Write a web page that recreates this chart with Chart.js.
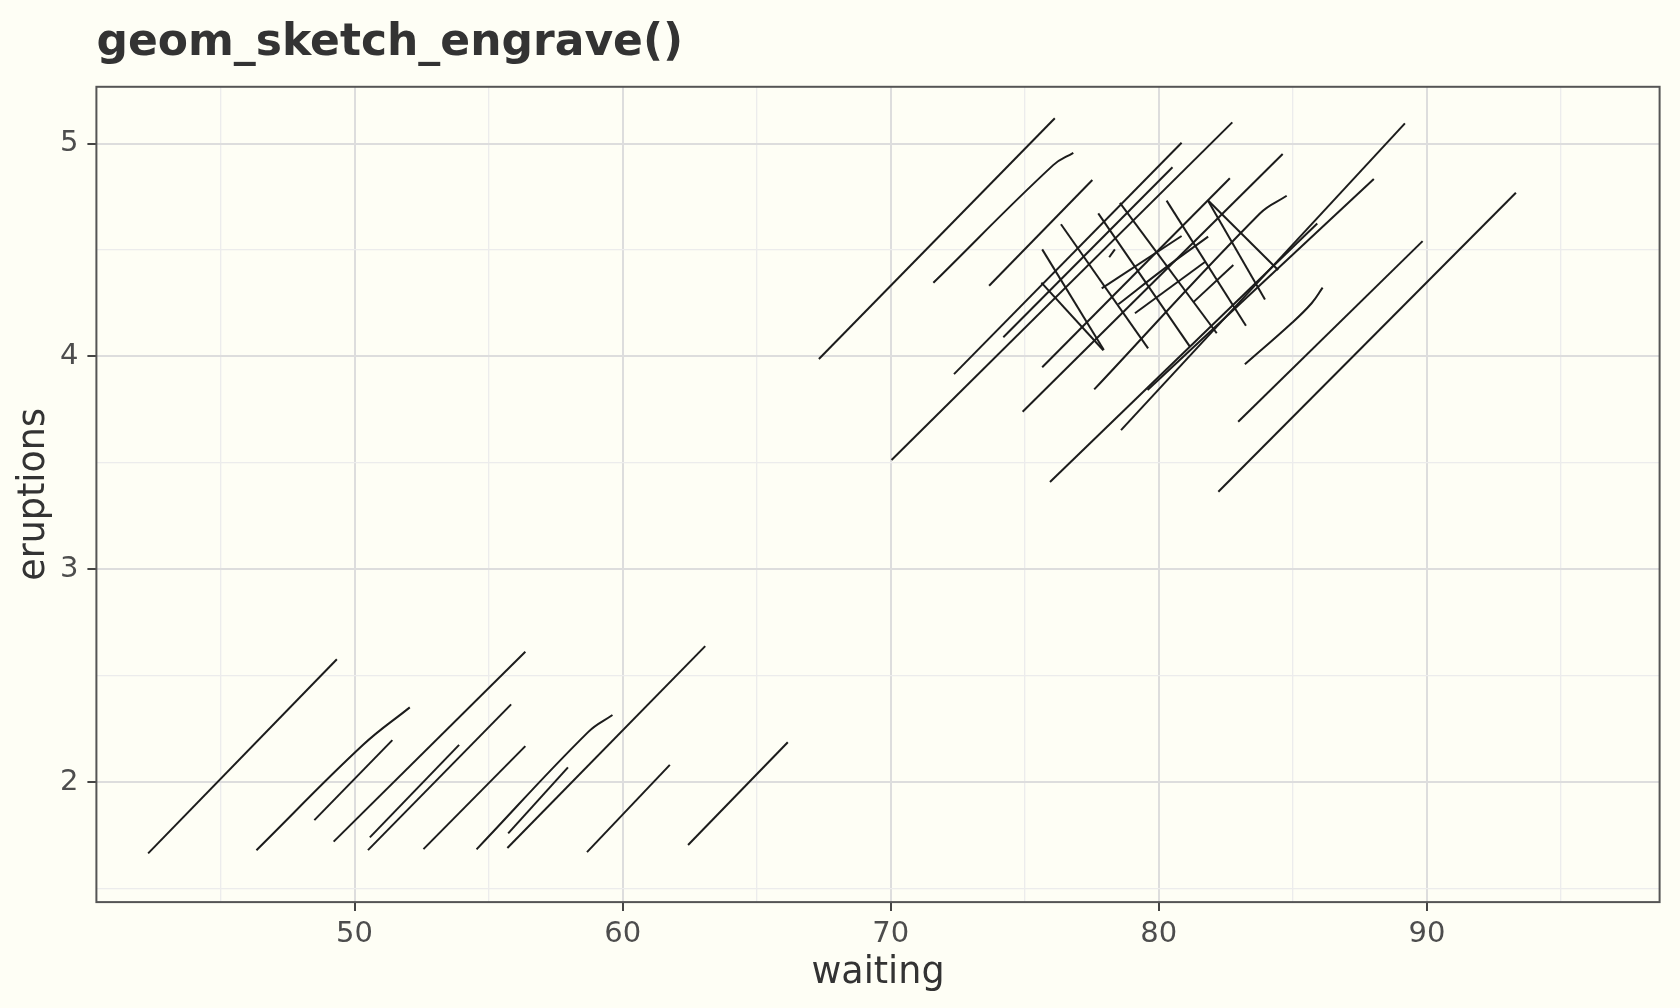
<!DOCTYPE html>
<html lang="en">
<head>
    <meta charset="UTF-8">
    <title>geom_sketch_engrave()</title>
    <script src="https://cdn.jsdelivr.net/npm/chart.js"></script>
    <style>
        body {
            margin: 0;
            background-color: #fefef5;
            overflow: hidden;
        }
        canvas {
            display: block;
        }
    </style>
</head>
<body>
    <canvas id="engraveChart" width="1680" height="1008"></canvas>

    <script>
        // axis ranges and ticks
        const xLimits = [40.37, 98.68];
        const yLimits = [1.436, 5.267];
        const xMajor = [50, 60, 70, 80, 90];
        const xMinor = [45, 55, 65, 75, 85, 95];
        const yMajor = [2, 3, 4, 5];
        const yMinor = [1.5, 2.5, 3.5, 4.5];

        // engraved strokes: waiting values along each stroke
        const strokeWaiting = [
            // short eruptions
            [42.30, 49.34],
            [46.34, 50.31, 52.06],
            [48.50, 51.41],
            [49.22, 56.37],
            [50.57, 53.90],
            [50.50, 55.84],
            [52.57, 56.37],
            [54.55, 58.72, 59.62],
            [55.73, 57.96],
            [55.70, 63.08],
            [58.67, 61.76],
            [62.44, 66.16],
            // long eruptions, rising strokes
            [67.32, 76.12],
            [71.59, 76.06, 76.81],
            [73.67, 77.52],
            [70.03, 82.74],
            [72.36, 80.85],
            [74.20, 80.51],
            [74.92, 84.62],
            [75.65, 82.65],
            [75.94, 85.91],
            [77.59, 83.77, 84.77],
            [79.58, 88.02],
            [78.59, 89.18],
            [82.22, 93.32],
            [82.96, 89.84],
            [83.21, 84.95, 85.70, 86.11],
            [77.87, 80.85],
            [78.15, 78.36],
            [78.49, 80.23, 81.84],
            [79.11, 81.72],
            [81.28, 82.78],
            // cross strokes
            [75.65, 77.95],
            [75.62, 77.93],
            [76.35, 79.60],
            [77.74, 81.16],
            [78.55, 82.16],
            [80.29, 83.25],
            [81.82, 83.96],
            [81.82, 84.45]
        ];

        // matching eruptions values along each stroke
        const strokeEruptions = [
            [1.665, 2.577],
            [1.680, 2.174, 2.351],
            [1.821, 2.197],
            [1.720, 2.612],
            [1.740, 2.175],
            [1.680, 2.365],
            [1.685, 2.169],
            [1.684, 2.236, 2.315],
            [1.759, 2.069],
            [1.690, 2.639],
            [1.671, 2.081],
            [1.704, 2.187],
            [3.988, 5.119],
            [4.346, 4.899, 4.957],
            [4.332, 4.829],
            [3.513, 5.100],
            [3.917, 5.004],
            [4.090, 4.889],
            [3.740, 4.951],
            [3.949, 4.837],
            [3.410, 4.625],
            [3.845, 4.672, 4.755],
            [3.842, 4.834],
            [3.654, 5.095],
            [3.364, 4.769],
            [3.693, 4.542],
            [3.963, 4.156, 4.250, 4.323],
            [4.320, 4.566],
            [4.466, 4.503],
            [4.245, 4.415, 4.563],
            [4.203, 4.444],
            [4.254, 4.430],
            [4.503, 4.030],
            [4.347, 4.029],
            [4.621, 4.038],
            [4.672, 4.046],
            [4.722, 4.109],
            [4.732, 4.144],
            [4.735, 4.268],
            [4.735, 4.406]
        ];

        const FONT = '"DejaVu Sans", "Liberation Sans", sans-serif';

        const datasets = strokeWaiting.map((xs, i) => ({
            data: xs.map((x, j) => ({ x: x, y: strokeEruptions[i][j] })),
            showLine: true,
            pointRadius: 0,
            borderColor: '#1c1c1c',
            borderWidth: 2,
            tension: xs.length > 2 ? 0.4 : 0
        }));

        // title above the panel, left aligned with it
        const plotTitle = {
            id: 'plotTitle',
            afterDraw(chart) {
                const c = chart.ctx;
                c.save();
                c.font = 'bold 44px ' + FONT;
                c.fillStyle = '#333333';
                c.textBaseline = 'alphabetic';
                c.fillText('geom_sketch_engrave()', chart.chartArea.left, 55);
                c.restore();
            }
        };

        // panel border like theme_bw
        const panelBorder = {
            id: 'panelBorder',
            afterDatasetsDraw(chart) {
                const a = chart.chartArea;
                const c = chart.ctx;
                c.save();
                c.strokeStyle = '#555555';
                c.lineWidth = 2;
                c.strokeRect(a.left, a.top, a.right - a.left, a.bottom - a.top);
                c.restore();
            }
        };

        function isMajor(list, v) {
            return list.some(m => Math.abs(m - v) < 1e-6);
        }

        function gridFor(major) {
            return {
                color: ctx => isMajor(major, ctx.tick.value) ? '#dddddd' : '#ececec',
                lineWidth: ctx => isMajor(major, ctx.tick.value) ? 2 : 1.3,
                tickColor: ctx => isMajor(major, ctx.tick.value) ? '#444444' : 'rgba(0,0,0,0)',
                tickWidth: 2,
                tickLength: 9,
                drawTicks: true
            };
        }

        new Chart(document.getElementById('engraveChart'), {
            type: 'scatter',
            data: { datasets: datasets },
            options: {
                responsive: false,
                animation: false,
                devicePixelRatio: 1,
                layout: {
                    padding: { top: 86.8, left: 0, right: 20.4, bottom: 0 }
                },
                plugins: {
                    legend: { display: false },
                    tooltip: { enabled: false }
                },
                scales: {
                    x: {
                        type: 'linear',
                        min: xLimits[0],
                        max: xLimits[1],
                        afterBuildTicks: scale => {
                            scale.ticks = xMinor.concat(xMajor).sort((a, b) => a - b).map(v => ({ value: v }));
                        },
                        afterFit: scale => { scale.height = 105.9; },
                        grid: gridFor(xMajor),
                        border: { display: false },
                        ticks: {
                            autoSkip: false,
                            maxRotation: 0,
                            padding: 6,
                            color: '#4d4d4d',
                            font: { family: FONT, size: 29 },
                            callback: v => isMajor(xMajor, v) ? String(v) : ''
                        },
                        title: {
                            display: true,
                            text: 'waiting',
                            color: '#333333',
                            font: { family: FONT, size: 36.5 },
                            padding: { top: 0, bottom: 13 }
                        }
                    },
                    y: {
                        type: 'linear',
                        min: yLimits[0],
                        max: yLimits[1],
                        afterBuildTicks: scale => {
                            scale.ticks = yMinor.concat(yMajor).sort((a, b) => a - b).map(v => ({ value: v }));
                        },
                        afterFit: scale => { scale.width = 96.4; },
                        grid: gridFor(yMajor),
                        border: { display: false },
                        ticks: {
                            autoSkip: false,
                            padding: 9,
                            color: '#4d4d4d',
                            font: { family: FONT, size: 29 },
                            callback: v => isMajor(yMajor, v) ? String(v) : ''
                        },
                        title: {
                            display: true,
                            text: 'eruptions',
                            color: '#333333',
                            font: { family: FONT, size: 36.5 },
                            padding: { top: 13, bottom: 0 }
                        }
                    }
                }
            },
            plugins: [plotTitle, panelBorder]
        });
    </script>
</body>
</html>
